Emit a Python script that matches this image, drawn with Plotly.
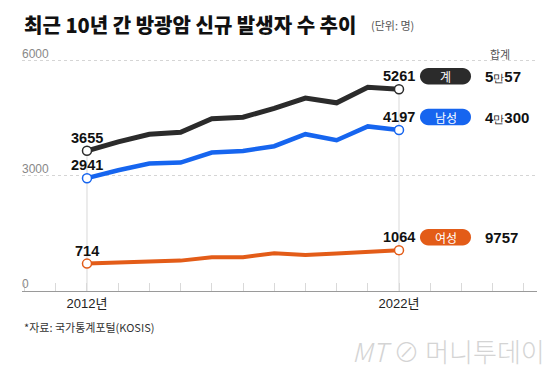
import plotly.graph_objects as go

# ---- data ----
years = [2012, 2013, 2014, 2015, 2016, 2017, 2018, 2019, 2020, 2021, 2022]
male = [2941, 3148, 3321, 3347, 3609, 3652, 3775, 4088, 3931, 4291, 4197]
female = [714, 741, 766, 792, 880, 880, 985, 941, 975, 1019, 1064]
total = [3655, 3889, 4087, 4139, 4489, 4532, 4760, 5029, 4906, 5310, 5261]
series_names = ["계", "남성", "여성"]
y_ticks = [0, 3000, 6000]
x_label_years = [2012, 2022]

title = "최근 10년 간 방광암 신규 발생자 수 추이"
unit = "(단위: 명)"
source = "*자료: 국가통계포털(KOSIS)"

colors = ["#2b2b2b", "#1665ef", "#e35c18"]
widths = [5, 4.5, 4]
series = [total, male, female]

NUM_FONT = "Liberation Sans Narrow, Arial Narrow, Liberation Sans, Arial"
KR_FONT = "Noto Sans CJK KR, Noto Sans, sans-serif"

fig = go.Figure()

# vertical guide lines at first/last year
for yr in x_label_years:
    i = years.index(yr)
    fig.add_shape(type="line", xref="x", yref="y", x0=yr, x1=yr, y0=0, y1=total[i],
                  line=dict(color="#d9d9d9", width=1), layer="below")

for vals, c, w, name in zip(series, colors, widths, series_names):
    fig.add_trace(go.Scatter(x=years, y=vals, mode="lines", line=dict(color=c, width=w),
                             name=name, hoverinfo="skip"))
    ends_x = [years[0], years[-1]]
    ends_y = [vals[0], vals[-1]]
    fig.add_trace(go.Scatter(x=ends_x, y=ends_y, mode="markers",
                             marker=dict(size=9, color="white", line=dict(color=c, width=1.5)),
                             hoverinfo="skip"))

def fmt_sum(v):
    if v >= 10000:
        man, rest = divmod(v, 10000)
        return f"<b>{man}</b><span style='font-size:11px'>만</span><b>{rest}</b>"
    return f"<b>{v}</b>"

def pill_path(x0, x1, yc, h):
    r = h / 2
    k = 0.5523 * r
    y0, y1 = yc - r, yc + r
    return (f"M{x0+r},{y0} L{x1-r},{y0} C{x1-r+k},{y0} {x1},{yc-k} {x1},{yc} "
            f"C{x1},{yc+k} {x1-r+k},{y1} {x1-r},{y1} L{x0+r},{y1} "
            f"C{x0+r-k},{y1} {x0},{yc+k} {x0},{yc} C{x0},{yc-k} {x0+r-k},{y0} {x0+r},{y0} Z")

annotations = []
for vals, c, name in zip(series, colors, series_names):
    # data labels at ends
    for i in (0, len(years) - 1):
        annotations.append(dict(x=years[i], y=vals[i], xref="x", yref="y", text=f"<b>{vals[i]}</b>",
                                showarrow=False, yshift=13, xanchor="center", yanchor="middle",
                                font=dict(family=NUM_FONT, size=14.5, color="#111")))
    # pill
    fig.add_shape(type="path", xref="x", yref="y", xsizemode="pixel", ysizemode="pixel",
                  xanchor=years[-1], yanchor=vals[-1], path=pill_path(21, 72, 13, 16.5),
                  fillcolor=c, line=dict(width=0))
    annotations.append(dict(x=years[-1], y=vals[-1], xref="x", yref="y", text=name,
                            showarrow=False, xshift=46.5, yshift=13, xanchor="center", yanchor="middle",
                            font=dict(family=KR_FONT, size=12, color="white")))
    annotations.append(dict(x=years[-1], y=vals[-1], xref="x", yref="y", text=fmt_sum(sum(vals)),
                            showarrow=False, xshift=84, yshift=13, xanchor="left", yanchor="middle",
                            font=dict(family=NUM_FONT, size=15, color="#111")))

# 합계 header
annotations.append(dict(x=years[-1], y=y_ticks[-1], xref="x", yref="y", text="합계",
                        showarrow=False, xshift=101, yshift=7, xanchor="center", yanchor="middle",
                        font=dict(family=KR_FONT, size=11, color="#555")))

# y labels
for t in y_ticks:
    annotations.append(dict(x=0, y=t, xref="paper", yref="y", text=f"{t}", showarrow=False,
                            xanchor="left", yanchor="middle", yshift=7, xshift=-2,
                            font=dict(family=NUM_FONT, size=12, color="#888")))

# title & unit
annotations.append(dict(x=22, y=374 - 24, xref="paper", yref="paper", text=title,
                        showarrow=False, xanchor="left", yanchor="middle",
                        font=dict(family=KR_FONT, size=20, color="#111", weight=900)))
annotations.append(dict(x=369, y=374 - 25, xref="paper", yref="paper", text=unit,
                        showarrow=False, xanchor="left", yanchor="middle",
                        font=dict(family=KR_FONT, size=11, color="#555")))
annotations.append(dict(x=22, y=374 - 327, xref="paper", yref="paper", text=source,
                        showarrow=False, xanchor="left", yanchor="middle",
                        font=dict(family=KR_FONT, size=11, color="#333")))
annotations.append(dict(x=547, y=374 - 350, xref="paper", yref="paper",
                        text="<i>MT</i> ⊘ 머니투데이",
                        showarrow=False, xanchor="right", yanchor="middle",
                        font=dict(family=KR_FONT, size=26, color="#d4d4d4", weight=300)))

# convert pixel-based paper annotations
W, H = 560, 374
ML, MR, MT, MB = 22, 23, 57, 83
pw, ph = W - ML - MR, H - MT - MB
for a in annotations:
    if a.get("xref") == "paper" and a.get("yref") == "paper":
        a["x"] = (a["x"] - ML) / pw
        a["y"] = (a["y"] - MB) / ph

fig.update_layout(
    width=W, height=H,
    margin=dict(l=ML, r=MR, t=MT, b=MB),
    paper_bgcolor="white", plot_bgcolor="white",
    showlegend=False,
    annotations=annotations,
    xaxis=dict(range=[2009.917, 2026.423], tickmode="array", tickvals=x_label_years,
               ticktext=[f"{y}년" for y in x_label_years], ticks="inside", ticklen=8,
               tickcolor="#d9d9d9", showgrid=False, zeroline=False,
               showline=True, linecolor="#9a9a9a", linewidth=1,
               tickfont=dict(family="Liberation Sans, Noto Sans CJK KR", size=13, color="#222"),
               minor=dict(dtick=1, tick0=2012, ticks="inside", ticklen=8, tickcolor="#d9d9d9", showgrid=False)),
    yaxis=dict(range=[0, 6100], tickmode="array", tickvals=y_ticks, showticklabels=False,
               showgrid=True, gridcolor="#d5d5d5", griddash="dot", gridwidth=1,
               zeroline=False, showline=False),
)

fig.write_html("out.html", config={"displayModeBar": False},
               post_script="document.body.style.margin='0';document.body.style.overflow='hidden';")
